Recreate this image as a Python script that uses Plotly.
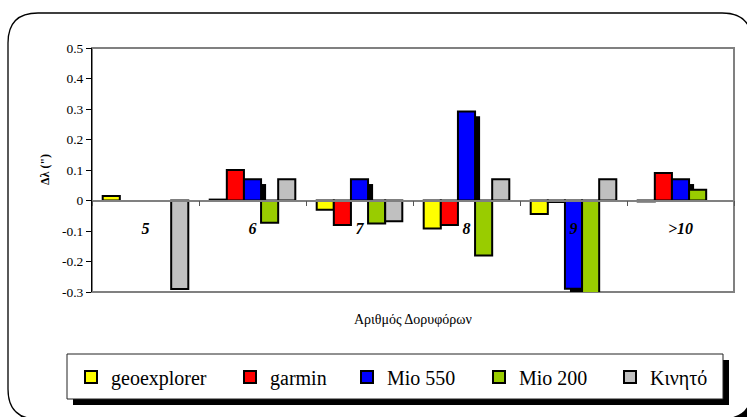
import plotly.graph_objects as go

# ---------------- data ----------------
categories = ["5", "6", "7", "8", "9", ">10"]
series_names = ["geoexplorer", "garmin", "Mio 550", "Mio 200", "Κινητό"]
geoexplorer = [0.015, 0.003, -0.03, -0.092, -0.044, -0.003]
garmin = [None, 0.10, -0.08, -0.08, -0.005, 0.09]
mio550 = [None, 0.07, 0.07, 0.292, -0.289, 0.07]
mio200 = [None, -0.073, -0.075, -0.18, -0.316, 0.035]
kinito = [-0.29, 0.07, -0.068, 0.07, 0.07, None]
y_tick_vals = [-0.3, -0.2, -0.1, 0, 0.1, 0.2, 0.3, 0.4, 0.5]
y_tick_text = ["-0.3", "-0.2", "-0.1", "0", "0.1", "0.2", "0.3", "0.4", "0.5"]
y_title = "Δλ (\")"
x_title = "Αριθμός Δορυφόρων"

# ---------------- styles ----------------
colors = ["#FFFF00", "#FF0000", "#0000FF", "#99CC00", "#C0C0C0"]
legend_widths = [114, 72, 87, 86, 65]
FONT = "Liberation Serif"
W, H = 747, 417
PL, PR, PT, PB = 92, 734, 48, 292  # plot area pixel box
BAR_W = 0.16
SHADOW_DX = 0.047
SHADOW_DY = 0.016


def px(x):
    return (x - PL) / (PR - PL)


def py(y):
    return (PB - y) / (PB - PT)


series_values = [geoexplorer, garmin, mio550, mio200, kinito]
shadow_vals = [None if v is None else v - SHADOW_DY for v in mio550]

fig = go.Figure()
offsets = [-0.4 + i * BAR_W for i in range(5)]
for i, (name, vals) in enumerate(zip(series_names, series_values)):
    if i == 2:
        fig.add_trace(go.Bar(
            x=categories, y=shadow_vals, name="shadow", showlegend=False,
            offset=offsets[2] + SHADOW_DX, width=BAR_W,
            marker=dict(color="black", line=dict(width=0)),
            cliponaxis=False, hoverinfo="skip"))
    fig.add_trace(go.Bar(
        x=categories, y=vals, name=name,
        offset=offsets[i], width=BAR_W,
        marker=dict(color=colors[i], line=dict(color="black", width=2)),
        legendwidth=legend_widths[i],
        cliponaxis=False))


def rrect(x0, y0, x1, y1, r):
    pts = [
        f"M{px(x0 + r)},{py(y0)}",
        f"L{px(x1 - r)},{py(y0)}",
        f"Q{px(x1)},{py(y0)} {px(x1)},{py(y0 + r)}",
        f"L{px(x1)},{py(y1 - r)}",
        f"Q{px(x1)},{py(y1)} {px(x1 - r)},{py(y1)}",
        f"L{px(x0 + r)},{py(y1)}",
        f"Q{px(x0)},{py(y1)} {px(x0)},{py(y1 - r)}",
        f"L{px(x0)},{py(y0 + r)}",
        f"Q{px(x0)},{py(y0)} {px(x0 + r)},{py(y0)}",
        "Z",
    ]
    return " ".join(pts)


shapes = [
    dict(type="path", path=rrect(12, 17, 756, 423, 30), xref="paper", yref="paper",
         fillcolor="black", line=dict(width=0), layer="below"),
    dict(type="path", path=rrect(8, 13, 752, 419, 30), xref="paper", yref="paper",
         fillcolor="white", line=dict(color="black", width=1.3), layer="below"),
    dict(type="rect", x0=0, x1=1, y0=0, y1=1, xref="paper", yref="paper",
         line=dict(color="#808080", width=2), fillcolor="white", layer="below"),
    dict(type="rect", x0=px(73), x1=px(729), y0=py(405), y1=py(360), xref="paper", yref="paper",
         fillcolor="black", line=dict(width=0), layer="below"),
    dict(type="rect", x0=px(67), x1=px(723), y0=py(399), y1=py(354), xref="paper", yref="paper",
         fillcolor="white", line=dict(color="#222222", width=1), layer="below"),
]

annotations = [
    dict(text=x_title, x=0.5, y=py(319), xref="paper", yref="paper", showarrow=False,
         font=dict(family=FONT, size=14, color="black"), xanchor="center", yanchor="middle"),
    dict(text=y_title, x=px(45), y=0.5, xref="paper", yref="paper", showarrow=False,
         textangle=-90, font=dict(family=FONT, size=12, color="black", weight="bold"),
         xanchor="center", yanchor="middle"),
]

fig.update_layout(
    width=W, height=H,
    margin=dict(l=PL, r=W - PR, t=PT, b=H - PB),
    barmode="overlay",
    paper_bgcolor="white", plot_bgcolor="white",
    shapes=shapes, annotations=annotations,
    showlegend=True,
    font=dict(family=FONT),
    legend=dict(orientation="h", x=px(71), xanchor="left", y=py(377), yanchor="middle",
                bgcolor="rgba(0,0,0,0)", borderwidth=0,
                font=dict(family=FONT, size=20, color="black"), traceorder="normal"),
    xaxis=dict(type="category", categoryorder="array", categoryarray=categories,
               range=[-0.5, 5.5], anchor="free", position=0.375,
               showline=True, linecolor="#808080", linewidth=1.5,
               ticks="outside", tickson="boundaries", ticklen=5, tickcolor="#555555",
               tickwidth=1, showgrid=False, zeroline=False,
               ticklabelstandoff=14,
               tickfont=dict(family=FONT, size=16, color="black", weight="bold", style="italic")),
    yaxis=dict(range=[-0.3, 0.5], tickmode="array", tickvals=y_tick_vals, ticktext=y_tick_text,
               ticks="outside", ticklen=5, tickcolor="black", showline=True,
               linecolor="black", linewidth=1, showgrid=False, zeroline=False,
               tickfont=dict(family=FONT, size=13.5, color="black")),
)

fig.write_html("out.html")
